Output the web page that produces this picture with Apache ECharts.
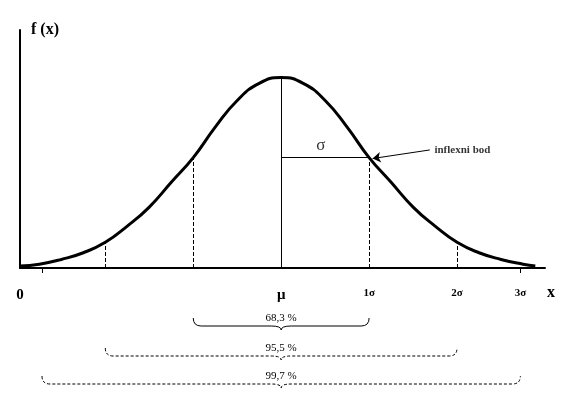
<!DOCTYPE html>
<html>
<head>
<meta charset="utf-8">
<script src="https://cdn.jsdelivr.net/npm/echarts@6/dist/echarts.min.js"></script>
<style>html,body{margin:0;background:#fff}#c{width:576px;height:410px}</style>
</head>
<body>
<div id="c"></div>
<script>
// curve, x in sigma units, y relative to peak
const xs = [-2.97, -2.75, -2.5, -2.25, -2, -1.75, -1.5, -1.25, -1, -0.75, -0.5, -0.25, 0,
            0.25, 0.5, 0.75, 1, 1.25, 1.5, 1.75, 2, 2.25, 2.5, 2.75, 2.89];
const ys = [0.01, 0.02, 0.045, 0.08, 0.135, 0.22, 0.32, 0.45, 0.58, 0.74, 0.88, 0.97, 1.0,
            0.97, 0.88, 0.74, 0.58, 0.45, 0.32, 0.22, 0.135, 0.08, 0.045, 0.02, 0.01];
const tickVals = [-2.97, 0, 1, 2, 2.72];
const tickText = ['0', 'μ', '1σ', '2σ', '3σ'];
const ranges = [[-1, 1, 58, '68,3 %', 'solid'], [-2, 2, 88, '95,5 %', 'dashed'], [-2.72, 2.72, 116, '99,7 %', 'dashed']];

const font = '"Liberation Serif", serif';
const chart = echarts.init(document.getElementById('c'));

chart.setOption({
  animation: false,
  grid: { left: 20, right: 31, top: 30, bottom: 142 },
  xAxis: {
    type: 'value', min: -2.97, max: 3.0,
    axisLine: { lineStyle: { color: '#000', width: 2 } },
    splitLine: { show: false },
    axisTick: { customValues: [-2.72, 2.72], length: 5, lineStyle: { color: '#000' } },
    axisLabel: {
      customValues: tickVals, margin: 20, color: '#000', fontFamily: font, fontWeight: 'bold',
      formatter: v => {
        const i = tickVals.indexOf(v);
        return i < 2 ? '{b|' + tickText[i] + '}' : '{s|' + tickText[i] + '}';
      },
      rich: { b: { fontSize: 15, fontFamily: font, fontWeight: 'bold' }, s: { fontSize: 11, fontFamily: font } }
    }
  },
  yAxis: {
    type: 'value', min: 0, max: 1.25,
    axisLine: { show: true, onZero: false, lineStyle: { color: '#000', width: 2 } },
    axisTick: { show: false }, axisLabel: { show: false }, splitLine: { show: false }
  },
  graphic: [
    { type: 'text', left: 31, top: 22, style: { text: 'f (x)', font: 'bold 16px ' + font, fill: '#000' } },
    { type: 'text', left: 547, top: 285, style: { text: 'x', font: 'bold 16px ' + font, fill: '#000' } }
  ],
  series: [
    {
      type: 'line', data: xs.map((x, i) => [x, ys[i]]), smooth: true, symbol: 'none',
      lineStyle: { color: '#000', width: 3 },
      markLine: {
        symbol: 'none', silent: true, label: { show: false },
        lineStyle: { color: '#000', width: 1, type: 'solid' },
        data: [
          [{ coord: [0, 0] }, { coord: [0, 1.0] }],
          [{ coord: [0, 0.58] }, { coord: [1, 0.58] }],
          [{ coord: [-1, 0] }, { coord: [-1, 0.58], lineStyle: { type: 'dashed' } }],
          [{ coord: [1, 0] }, { coord: [1, 0.58], lineStyle: { type: 'dashed' } }],
          [{ coord: [-2, 0] }, { coord: [-2, 0.135], lineStyle: { type: 'dashed' } }],
          [{ coord: [2, 0] }, { coord: [2, 0.135], lineStyle: { type: 'dashed' } }],
          [{ coord: [1.69, 0.62], symbol: 'none' }, { coord: [1.04, 0.575], symbol: 'arrow', symbolSize: 8 }]
        ]
      }
    },
    {
      type: 'scatter', symbolSize: 0, silent: true,
      data: [
        { value: [0.45, 0.58], label: { show: true, formatter: 'σ', position: 'top', distance: 4, fontSize: 17, fontFamily: font, color: '#000' } },
        { value: [1.72, 0.62], label: { show: true, formatter: 'inflexni bod', position: 'right', distance: 2, fontSize: 11, fontWeight: 'bold', fontFamily: font, color: '#000' } }
      ]
    },
    {
      type: 'custom', silent: true, clip: false,
      data: ranges.map(r => [r[0], r[1], r[2]]),
      renderItem: (params, api) => {
        const r = ranges[params.dataIndex];
        const a = api.coord([r[0], 0]), b = api.coord([r[1], 0]);
        const y = a[1] + r[2], m = (a[0] + b[0]) / 2;
        const d = r[4] === 'dashed' ? [3, 2] : null;
        const st = { stroke: '#000', lineWidth: 1, fill: null, lineDash: d };
        return {
          type: 'group', children: [
            { type: 'path', shape: { pathData: 'M' + a[0] + ' ' + (y - 8) + ' Q' + a[0] + ' ' + y + ' ' + (a[0] + 8) + ' ' + y +
              ' L' + (m - 10) + ' ' + y + ' Q' + m + ' ' + y + ' ' + m + ' ' + (y + 4) +
              ' Q' + m + ' ' + y + ' ' + (m + 10) + ' ' + y + ' L' + (b[0] - 8) + ' ' + y +
              ' Q' + b[0] + ' ' + y + ' ' + b[0] + ' ' + (y - 8) }, style: st },
            { type: 'text', x: m, y: y - 2, style: { text: r[3], align: 'center', verticalAlign: 'bottom', font: '11px ' + font, fill: '#000' } }
          ]
        };
      }
    }
  ]
});
</script>
</body>
</html>
